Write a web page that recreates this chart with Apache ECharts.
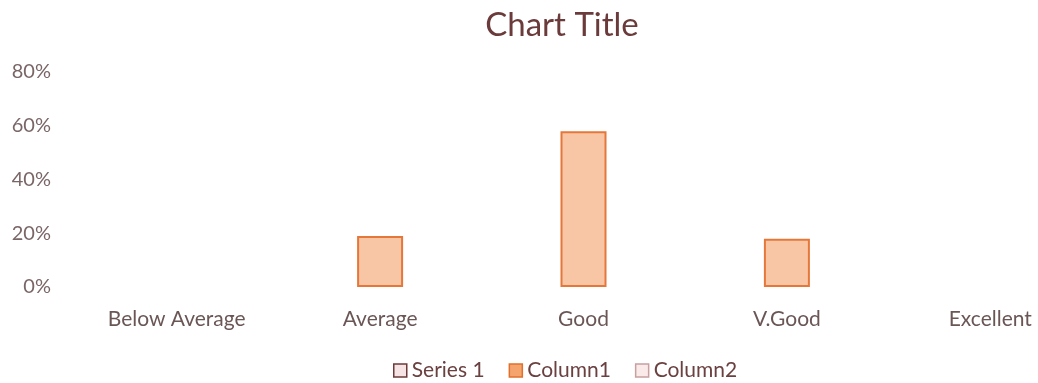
<!DOCTYPE html>
<html>
<head>
<meta charset="utf-8">
<script src="https://cdn.jsdelivr.net/npm/echarts@6/dist/echarts.min.js"></script>
<style>
html, body { margin: 0; padding: 0; background: #fff; }
#chart { width: 1038px; height: 383px; }
</style>
</head>
<body>
<div id="chart"></div>
<script>
// categories and values (percent)
var categories = ["Below Average", "Average", "Good", "V.Good", "Excellent"];
var series1 = [null, null, null, null, null];
var column1 = [null, 19, 58, 18, null];
var column2 = [null, null, null, null, null];

var chart = echarts.init(document.getElementById("chart"));
chart.setOption({
    backgroundColor: "#fff",
    textStyle: { fontFamily: "Lato" },
    title: {
        text: "Chart Title",
        left: 557,
        textAlign: "center",
        top: 4,
        textStyle: { color: "#6b3b3b", fontSize: 33, fontWeight: "normal", fontFamily: "Lato" }
    },
    legend: {
        top: 355,
        left: 388,
        itemWidth: 13,
        itemHeight: 13,
        itemGap: 24,
        textStyle: { color: "#6b4040", fontSize: 21, fontFamily: "Lato" },
        data: [
            { name: "Series 1", icon: "rect", itemStyle: { color: "#f6e3e3", borderColor: "#6b3b3b", borderWidth: 1.5 } },
            { name: "Column1", icon: "rect", itemStyle: { color: "#f5a46e", borderColor: "#e0702c", borderWidth: 1.5 } },
            { name: "Column2", icon: "rect", itemStyle: { color: "#fbeaea", borderColor: "#c8a0a0", borderWidth: 1.5 } }
        ]
    },
    // the plot runs past the right edge in the reference
    grid: { left: 75, right: -54, top: 72, bottom: 96, outerBoundsMode: "none", containLabel: false },
    xAxis: {
        type: "category",
        data: categories,
        axisLine: { show: false },
        axisTick: { show: false },
        axisLabel: { color: "#6b5656", fontSize: 21, margin: 22 }
    },
    yAxis: {
        type: "value",
        min: 0,
        max: 80,
        interval: 20,
        splitLine: { show: false },
        axisLine: { show: false },
        axisTick: { show: false },
        axisLabel: { formatter: "{value}%", color: "#7a6666", fontSize: 20, margin: 24 }
    },
    series: [
        { name: "Series 1", type: "bar", barWidth: 46, barGap: "-100%", data: series1,
          itemStyle: { color: "#f6e3e3", borderColor: "#6b3b3b" } },
        { name: "Column1", type: "bar", barWidth: 46, barGap: "-100%", data: column1,
          itemStyle: { color: "#f8c6a4", borderColor: "#e6773a", borderWidth: 2 } },
        { name: "Column2", type: "bar", barWidth: 46, barGap: "-100%", data: column2,
          itemStyle: { color: "#fbeaea", borderColor: "#c8a0a0" } }
    ]
});
</script>
</body>
</html>
